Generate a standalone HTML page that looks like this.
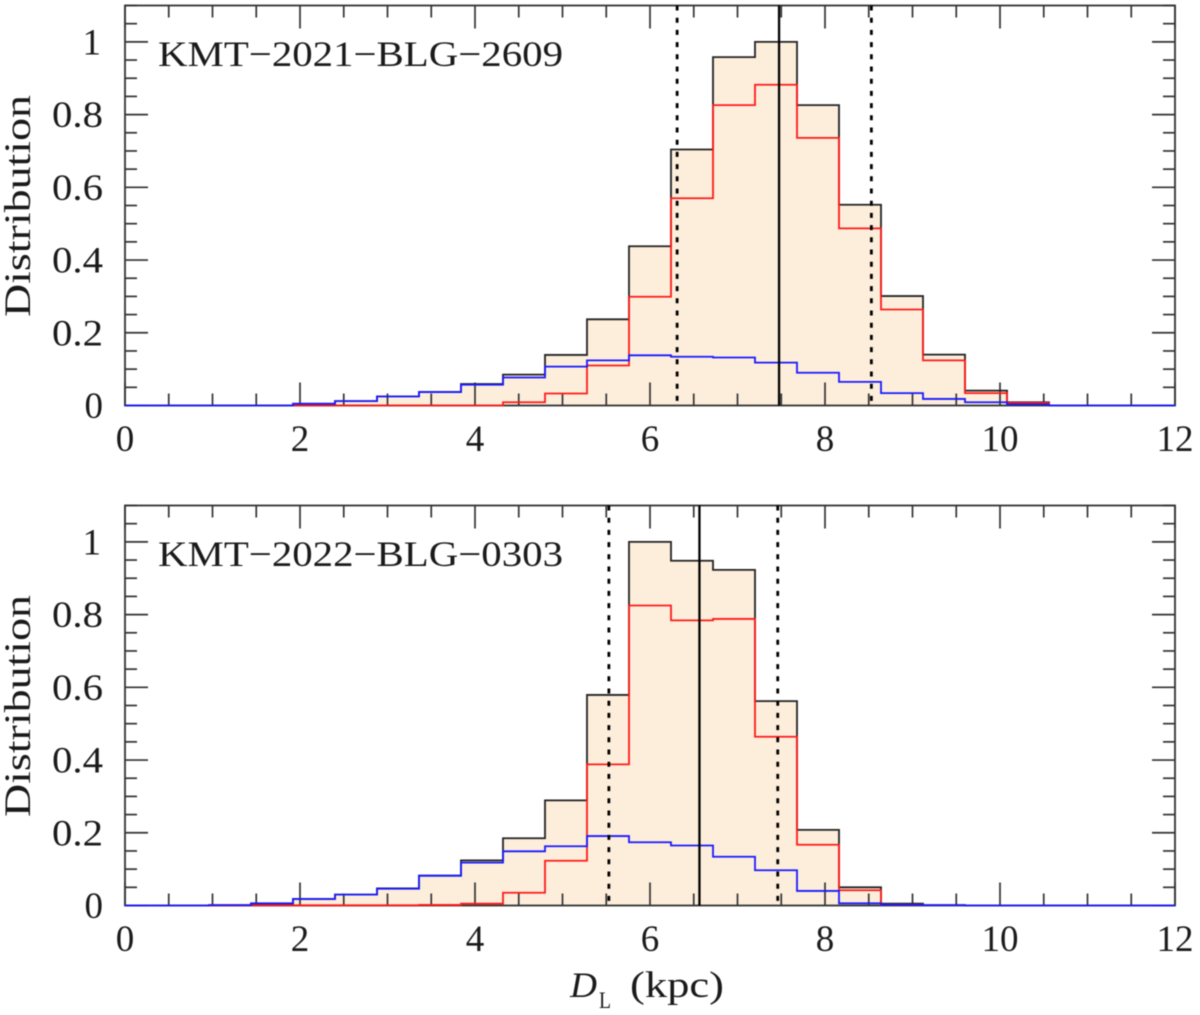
<!DOCTYPE html>
<html lang="en">
<head>
<meta charset="utf-8">
<title>Lens distance distributions</title>
<style>
  html, body { margin: 0; padding: 0; background: #fff; }
  body { width: 1200px; height: 1015px; overflow: hidden; }
  svg { display: block; filter: blur(0.5px); }
  text { font-family: "Liberation Serif", "DejaVu Serif", serif; fill: #1a1a1a; }
</style>
</head>
<body>
<svg id="chart" xmlns="http://www.w3.org/2000/svg" width="1200" height="1015" viewBox="0 0 1200 1015">
  <g id="panel-top"></g>
  <g id="panel-bottom"></g>

  <text x="158" y="66" font-size="36" textLength="405" lengthAdjust="spacingAndGlyphs">KMT−2021−BLG−2609</text>
  <text x="158" y="566" font-size="36" textLength="405" lengthAdjust="spacingAndGlyphs">KMT−2022−BLG−0303</text>

  <text transform="translate(30 317) rotate(-90)" font-size="37" textLength="222" lengthAdjust="spacingAndGlyphs">Distribution</text>
  <text transform="translate(30 817) rotate(-90)" font-size="37" textLength="222" lengthAdjust="spacingAndGlyphs">Distribution</text>

  <g>
    <text x="570" y="997" font-size="36" font-style="italic" textLength="27" lengthAdjust="spacingAndGlyphs">D</text>
    <text x="599" y="1008" font-size="23" textLength="12" lengthAdjust="spacingAndGlyphs">L</text>
    <text x="630" y="997" font-size="37" textLength="94" lengthAdjust="spacingAndGlyphs">(kpc)</text>
  </g>
</svg>

<script>
// Histogram bin width in kpc, and the tick values
const binWidth = 0.48;
const xTickLabels = ["0", "2", "4", "6", "8", "10", "12"];
const yTickLabels = ["0", "0.2", "0.4", "0.6", "0.8", "1"];

// KMT-2021-BLG-2609 series (one value per bin, starting at 0 kpc)
const totalTop = [0, 0, 0, 0, 0.003, 0.012, 0.025, 0.037, 0.059, 0.085, 0.139, 0.237, 0.438, 0.704, 0.958, 1, 0.826, 0.552, 0.301, 0.14, 0.041, 0.009, 0, 0, 0];
const redTop = [0, 0, 0, 0, 0, 0, 0, 0, 0, 0.009, 0.033, 0.11, 0.299, 0.57, 0.826, 0.882, 0.736, 0.487, 0.264, 0.124, 0.034, 0.007, 0, 0, 0];
const blueTop = [0, 0, 0, 0, 0.005, 0.012, 0.025, 0.037, 0.057, 0.077, 0.107, 0.124, 0.138, 0.134, 0.132, 0.118, 0.09, 0.065, 0.034, 0.018, 0.009, 0.003, 0, 0, 0];
const medianTop = 7.475;
const lowerTop = 6.31;
const upperTop = 8.53;

// KMT-2022-BLG-0303 series
const totalBottom = [0, 0, 0.001, 0.005, 0.018, 0.03, 0.047, 0.082, 0.124, 0.185, 0.289, 0.579, 1, 0.948, 0.923, 0.562, 0.208, 0.05, 0.005, 0.001, 0, 0, 0, 0, 0];
const redBottom = [0, 0, 0.0005, 0.0005, 0.0005, 0.0005, 0.0005, 0.0015, 0.005, 0.035, 0.123, 0.388, 0.825, 0.784, 0.788, 0.464, 0.167, 0.042, 0.002, 0, 0, 0, 0, 0, 0];
const blueBottom = [0, 0, 0.001, 0.006, 0.018, 0.03, 0.046, 0.082, 0.118, 0.149, 0.163, 0.191, 0.174, 0.165, 0.134, 0.097, 0.04, 0.006, 0.002, 0.001, 0, 0, 0, 0, 0];
const medianBottom = 6.565;
const lowerBottom = 5.53;
const upperBottom = 7.46;

const SVG_NS = "http://www.w3.org/2000/svg";
const xLeft = 125, xRight = 1175;
const xMin = 0, xMax = 12, yMin = 0, yMax = 1.1;
const frameColor = "#333";

function xScale(v) {
  return xLeft + (v - xMin) / (xMax - xMin) * (xRight - xLeft);
}

function makeYScale(bottom, top) {
  return function (v) {
    return bottom - (v - yMin) / (yMax - yMin) * (bottom - top);
  };
}

// Step outline over bins [first, last], returning to the baseline at both ends
function stepPath(values, yScale, first, last) {
  let d = "M" + xScale(first * binWidth) + " " + yScale(0);
  for (let i = first; i <= last; i++) {
    d += "L" + xScale(i * binWidth) + " " + yScale(values[i]);
    d += "L" + xScale((i + 1) * binWidth) + " " + yScale(values[i]);
  }
  return d + "L" + xScale((last + 1) * binWidth) + " " + yScale(0);
}

function firstNonZero(values) {
  return values.findIndex(function (v) { return v > 0; });
}

function lastNonZero(values) {
  let k = values.length - 1;
  while (k > 0 && values[k] <= 0) { k--; }
  return k;
}

function line(parent, x1, y1, x2, y2, color, width) {
  const el = document.createElementNS(SVG_NS, "line");
  el.setAttribute("x1", x1);
  el.setAttribute("y1", y1);
  el.setAttribute("x2", x2);
  el.setAttribute("y2", y2);
  el.setAttribute("stroke", color);
  el.setAttribute("stroke-width", width);
  parent.appendChild(el);
  return el;
}

function label(parent, str, x, y, anchor) {
  const el = document.createElementNS(SVG_NS, "text");
  let w = 0;
  for (const c of str) { w += c === "." ? 14 : 18.5; }
  el.setAttribute("x", x);
  el.setAttribute("y", y);
  el.setAttribute("font-size", "37");
  el.setAttribute("text-anchor", anchor);
  el.setAttribute("textLength", w);
  el.setAttribute("lengthAdjust", "spacingAndGlyphs");
  el.textContent = str;
  parent.appendChild(el);
  return el;
}

function series(parent, d, color) {
  const el = document.createElementNS(SVG_NS, "path");
  el.setAttribute("d", d);
  el.setAttribute("fill", "none");
  el.setAttribute("stroke", color);
  el.setAttribute("stroke-width", "1.8");
  parent.appendChild(el);
  return el;
}

function drawPanel(group, top, bottom, total, red, blue, median, lower, upper) {
  const yScale = makeYScale(bottom, top);
  const totalFirst = firstNonZero(total);
  const totalLast = lastNonZero(total);

  // Shaded area under the total histogram
  const fill = document.createElementNS(SVG_NS, "path");
  fill.setAttribute("d", stepPath(total, yScale, totalFirst, totalLast) + "Z");
  fill.setAttribute("fill", "#fdeedb");
  fill.setAttribute("stroke", "none");
  
  
  group.appendChild(fill);

  // Frame
  const frame = document.createElementNS(SVG_NS, "rect");
  frame.setAttribute("x", xLeft);
  frame.setAttribute("y", top);
  frame.setAttribute("width", xRight - xLeft);
  frame.setAttribute("height", bottom - top);
  frame.setAttribute("fill", "none");
  frame.setAttribute("stroke", frameColor);
  frame.setAttribute("stroke-width", "1.8");
  
  
  group.appendChild(frame);

  // X ticks: minor every 0.5 kpc, major every 2 kpc
  for (let k = 0; k <= (xMax - xMin) * 2; k++) {
    const v = k / 2;
    const len = k % 4 === 0 ? 23 : 12;
    const bottomTick = line(group, xScale(v), bottom, xScale(v), bottom - len, frameColor, 1.7);
    
    
    const topTick = line(group, xScale(v), top, xScale(v), top + len, frameColor, 1.7);
    
    
  }

  // Y ticks: minor every 0.05, major every 0.2
  for (let k = 0; k <= 22; k++) {
    const v = k * 0.05;
    const len = k % 4 === 0 ? 23 : 12;
    const leftTick = line(group, xLeft, yScale(v), xLeft + len, yScale(v), frameColor, 1.7);
    
    
    const rightTick = line(group, xRight, yScale(v), xRight - len, yScale(v), frameColor, 1.7);
    
    
  }

  // Tick labels
  xTickLabels.forEach(function (t) {
    const el = label(group, t, xScale(Number(t)), bottom + 45.5, "middle");
    
    
  });
  yTickLabels.forEach(function (t) {
    const el = label(group, t, t === "1" ? 101 : 103, yScale(Number(t)) + 12.5, "end");
    
    
  });

  // Histogram outlines; the blue series alone runs the full axis width
  const blackLine = series(group, stepPath(total, yScale, totalFirst, totalLast), "#222");
  
  
  const redLine = series(group, stepPath(red, yScale, firstNonZero(blue), lastNonZero(red)), "#ff1a1a");
  
  
  const blueLine = series(group, stepPath(blue, yScale, 0, blue.length - 1), "#1a1aff");
  
  

  // Median and confidence bounds
  const medianLine = line(group, xScale(median), top, xScale(median), bottom, "#000", 2.3);
  
  
  const lowerLine = line(group, xScale(lower), top, xScale(lower), bottom, "#000", 2.8);
  lowerLine.setAttribute("stroke-dasharray", "5 7.2");
  
  
  const upperLine = line(group, xScale(upper), top, xScale(upper), bottom, "#000", 2.8);
  upperLine.setAttribute("stroke-dasharray", "5 7.2");
  
  
}

drawPanel(document.getElementById("panel-top"), 5.5, 405.5, totalTop, redTop, blueTop, medianTop, lowerTop, upperTop);
drawPanel(document.getElementById("panel-bottom"), 505.5, 905.5, totalBottom, redBottom, blueBottom, medianBottom, lowerBottom, upperBottom);
</script>
</body>
</html>
